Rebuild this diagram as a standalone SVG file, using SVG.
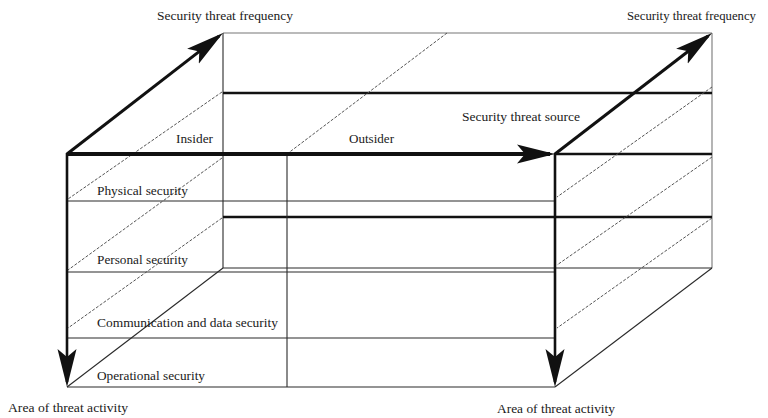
<svg xmlns="http://www.w3.org/2000/svg" width="768" height="418" viewBox="0 0 768 418">
<style>
  .thin{stroke:#2a2a2a;stroke-width:1.1;fill:none}
  .light{stroke:#777;stroke-width:1.1;fill:none}
  .thick{stroke:#111;stroke-width:2.6;fill:none}
  .dash{stroke:#555;stroke-width:1;stroke-dasharray:3 1.6;fill:none}
  .arrow{stroke:#111;fill:none}
  .lbl{font-family:"Liberation Serif","DejaVu Serif",serif;font-size:13.5px;fill:#1a1a1a}
</style>
<defs>
  <marker id="ah" viewBox="0 0 38 20" refX="33" refY="10" markerWidth="38" markerHeight="20" markerUnits="userSpaceOnUse" orient="auto">
    <path d="M0,0.5 L38,10 L0,19.5 L8,10 Z" fill="#111"/>
  </marker>
</defs>
<rect width="768" height="418" fill="#fff"/>

<g id="box">
  <line class="light" x1="223" y1="33" x2="712" y2="33"/>
  <line class="light" x1="712" y1="33" x2="712" y2="268"/>
  <line class="thin" x1="223" y1="33" x2="223" y2="268"/>
  <line class="thin" x1="223" y1="268" x2="712" y2="268"/>
  <line class="thick" x1="223" y1="93" x2="712" y2="93"/>
  <line class="thick" x1="555" y1="154" x2="712" y2="154"/>
  <line class="thick" x1="223" y1="217" x2="712" y2="217"/>
  <line class="thin" x1="67" y1="201" x2="555" y2="201"/>
  <line class="thin" x1="67" y1="272" x2="555" y2="272"/>
  <line class="thin" x1="67" y1="338" x2="555" y2="338"/>
  <line class="thin" x1="67" y1="387" x2="555" y2="387"/>
  <line class="thin" x1="287" y1="154" x2="287" y2="387"/>
  <line class="thin" x1="223" y1="268" x2="67" y2="387"/>
  <line class="thin" x1="712" y1="268" x2="555" y2="387"/>
</g>

<g id="dashed">
  <line class="dash" x1="222" y1="92" x2="68" y2="199"/>
  <line class="dash" x1="222" y1="158" x2="68" y2="270"/>
  <line class="dash" x1="222" y1="218" x2="68" y2="328"/>
  <line class="dash" x1="447" y1="33" x2="287" y2="154"/>
  <line class="dash" x1="712" y1="87" x2="557" y2="197"/>
  <line class="dash" x1="712" y1="157" x2="557" y2="265"/>
  <line class="dash" x1="712" y1="218" x2="557" y2="328"/>
</g>

<g id="connectors">
  <line class="arrow" stroke-width="4" x1="67" y1="154" x2="550" y2="154" marker-end="url(#ah)"/>
  <line class="arrow" stroke-width="3" x1="67" y1="154" x2="219.05" y2="36.07" marker-end="url(#ah)"/>
  <line class="arrow" stroke-width="3" x1="555" y1="154" x2="708.04" y2="36.05" marker-end="url(#ah)"/>
  <line class="arrow" stroke-width="2.6" x1="67" y1="153" x2="67" y2="382" marker-end="url(#ah)"/>
  <line class="arrow" stroke-width="2.6" x1="555" y1="153" x2="555" y2="382" marker-end="url(#ah)"/>
</g>

<g id="labels">
  <g id="freq-left"><text class="lbl" x="157" y="20" textLength="136" lengthAdjust="spacingAndGlyphs">Security threat frequency</text></g>
  <g id="freq-right"><text class="lbl" x="627" y="20" textLength="129" lengthAdjust="spacingAndGlyphs">Security threat frequency</text></g>
  <g id="source"><text class="lbl" x="462" y="121" textLength="118" lengthAdjust="spacingAndGlyphs">Security threat source</text></g>
  <g id="insider"><text class="lbl" x="176" y="143" textLength="37" lengthAdjust="spacingAndGlyphs">Insider</text></g>
  <g id="outsider"><text class="lbl" x="349" y="143" textLength="45" lengthAdjust="spacingAndGlyphs">Outsider</text></g>
  <g id="physical"><text class="lbl" x="97" y="195" textLength="91" lengthAdjust="spacingAndGlyphs">Physical security</text></g>
  <g id="personal"><text class="lbl" x="97" y="264" textLength="91" lengthAdjust="spacingAndGlyphs">Personal security</text></g>
  <g id="comm"><text class="lbl" x="97" y="327" textLength="181" lengthAdjust="spacingAndGlyphs">Communication and data security</text></g>
  <g id="operational"><text class="lbl" x="97" y="380" textLength="108" lengthAdjust="spacingAndGlyphs">Operational security</text></g>
  <g id="area-left"><text class="lbl" x="8" y="412" textLength="120" lengthAdjust="spacingAndGlyphs">Area of threat activity</text></g>
  <g id="area-right"><text class="lbl" x="497" y="413" textLength="118" lengthAdjust="spacingAndGlyphs">Area of threat activity</text></g>
</g>
</svg>
